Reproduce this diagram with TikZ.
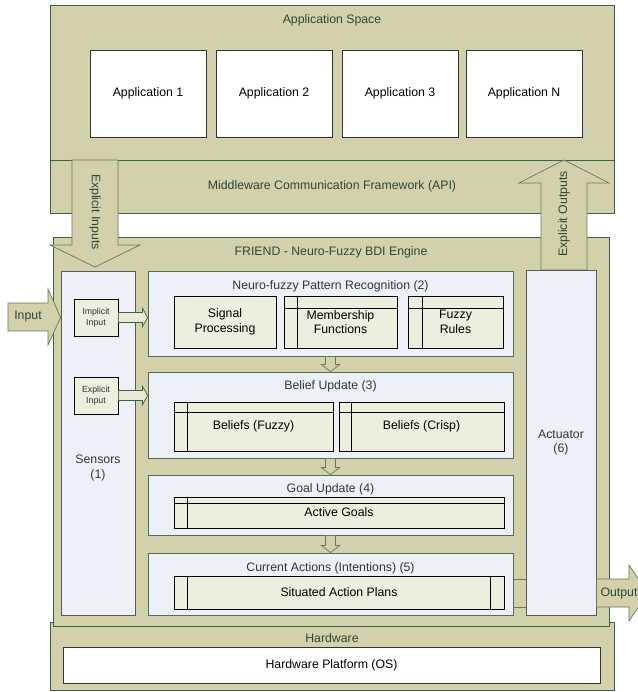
\documentclass[tikz,border=0pt]{standalone}
\usepackage{fontspec}
\setmainfont{Liberation Sans}
\usetikzlibrary{fit,calc}

\definecolor{tanfill}{RGB}{211,209,171}
\definecolor{framegreen}{RGB}{62,98,72}
\definecolor{panelfill}{RGB}{237,240,246}
\definecolor{panelline}{RGB}{80,110,85}
\definecolor{cream}{RGB}{236,238,222}
\definecolor{flowline}{RGB}{105,120,90}
\definecolor{titlegreen}{RGB}{45,70,55}
\definecolor{titleblue}{RGB}{45,55,70}

\tikzset{
  frame/.style={draw=framegreen, fill=tanfill, line width=0.7pt, inner sep=0pt},
  panel/.style={draw=panelline, fill=panelfill, line width=0.7pt, inner sep=0pt},
  part/.style={draw=black, fill=cream, line width=0.6pt, inner sep=0pt},
  appbox/.style={draw=black!80, fill=white, line width=0.7pt, inner sep=0pt},
  txt/.style={label={[align=center]center:{#1}}},
  gtxt/.style={label={[align=center, text=titlegreen]center:{#1}}},
  btxt/.style={label={[align=center, text=titleblue]center:{#1}}},
  stxt/.style={label={[align=center, text=black!80, font=\fontsize{7.5}{9.5}\selectfont]center:{#1}}},
  flow/.style={draw=flowline, fill=tanfill, line width=0.6pt},
  thinflow/.style={draw=framegreen, fill=tanfill!45!white, line width=0.6pt},
  ttl/.style={text=titlegreen},
  pttl/.style={text=titleblue}
}

\begin{document}
\begin{tikzpicture}[x=0.03cm, y=-0.03cm, font=\fontsize{10.5}{12.5}\selectfont]
\clip (0,0) rectangle (638,692);

% application space and middleware
\node[frame, fit={(50,5) (614,160)}] (appspace) {};
\node[ttl] (appttl) at (332,20.5) {Application Space};
\node[appbox, fit={(90,50) (206,137)}, txt=Application 1] (app1) {};
\node[appbox, fit={(216,50) (332,137)}, txt=Application 2] (app2) {};
\node[appbox, fit={(342,50) (458,137)}, txt=Application 3] (app3) {};
\node[appbox, fit={(466,50) (582,137)}, txt=Application N] (appn) {};
\node[frame, fit={(50,160) (614,213)}, gtxt=Middleware Communication Framework (API)] (mw) {};

% hardware
\node[frame, fit={(50,622) (614,690)}] (hw) {};
\node[ttl] (hwttl) at (332,638) {Hardware};
\node[appbox, fit={(63,647) (600,683)}, txt=Hardware Platform (OS)] (hwos) {};

% engine
\node[frame, fit={(53,237) (609,626)}] (engine) {};
\node[ttl] (enttl) at (331,252) {FRIEND - Neuro-Fuzzy BDI Engine};

% explicit inputs / outputs
\filldraw[flow] (72,160) -- (72,245) -- (50,245) -- (95,267) -- (140,245) -- (118,245) -- (118,160) -- cycle;
\node[ttl, rotate=-90] (expin) at (95,212) {Explicit Inputs};
\filldraw[flow] (541,270) -- (541,183) -- (519,183) -- (564,160) -- (609,183) -- (587,183) -- (587,270) -- cycle;
\node[ttl, rotate=90] (expout) at (564,214) {Explicit Outputs};

% sensors and actuator
\node[panel, draw=black!65, fit={(61,271) (135,615)}] (sensors) {};
\node[pttl, align=center] (senslbl) at (98,468) {Sensors\\(1)};
\node[panel, draw=black!65, fit={(526,270) (596,615)}, btxt=Actuator\\(6)] (actuator) {};
\node[part, fit={(74,299) (118,336)}, stxt=Implicit\\Input] (impl) {};
\node[part, fit={(74,377) (118,414)}, stxt=Explicit\\Input] (expl) {};

% processing stages
\node[panel, fit={(148,271) (513,356)}] (neuro) {};
\node[pttl] (neurottl) at (330.5,286) {Neuro-fuzzy Pattern Recognition (2)};
\node[part, fit={(174,296) (276,348)}, txt=Signal\\Processing] (sigproc) {};
\node[part, fit={(284,296) (397,348)}, txt=Membership\\Functions] (memb) {};
\node[part, fit={(408,296) (503,348)}, txt=Fuzzy\\Rules] (rules) {};
\draw (memb.north west) ++(14,0) -- ++(0,52);
\draw (memb.north west) ++(0,13) -- ++(113,0);
\draw (rules.north west) ++(15,0) -- ++(0,52);
\draw (rules.north west) ++(0,13) -- ++(95,0);

\node[panel, fit={(148,372) (513,458)}] (belief) {};
\node[pttl] (beliefttl) at (330.5,386) {Belief Update (3)};
\node[part, fit={(174,402) (333,451)}, txt=Beliefs (Fuzzy)] (bfuzzy) {};
\node[part, fit={(339,402) (504,451)}, txt=Beliefs (Crisp)] (bcrisp) {};
\draw (bfuzzy.north west) ++(14,0) -- ++(0,49);
\draw (bfuzzy.north west) ++(0,11) -- ++(159,0);
\draw (bcrisp.north west) ++(13,0) -- ++(0,49);
\draw (bcrisp.north west) ++(0,11) -- ++(165,0);

\node[panel, fit={(148,475) (513,535)}] (goal) {};
\node[pttl] (goalttl) at (330.5,489) {Goal Update (4)};
\node[part, fit={(174,497) (504,528)}, txt=Active Goals] (goals) {};
\draw (goals.north west) ++(14,0) -- ++(0,31);
\draw (goals.north west) ++(0,7) -- ++(330,0);

\node[panel, fit={(148,553) (513,615)}] (curact) {};
\node[pttl] (curactttl) at (330.5,568) {Current Actions (Intentions) (5)};
\node[part, fit={(174,576) (504,609)}, txt=Situated Action Plans] (plans) {};
\draw (plans.north west) ++(14,0) -- ++(0,33);
\draw (plans.north east) ++(-14,0) -- ++(0,33);

% flows between stages
\foreach \a/\b in {neuro/belief, belief/goal, goal/curact}
  \filldraw[flow] ($(\a.south)+(-5,0)$) -- ($(\b.north)+(-5,-7)$) -- ++(-4,0) -- (\b.north) -- ++(9,-7) -- ++(-4,0) -- ($(\a.south)+(5,0)$) -- cycle;

\filldraw[thinflow] ($(impl.east)+(0,-5)$) -- ($(impl.east -| neuro.west)+(-5,-5)$) -- ++(0,-4) -- (impl.east -| neuro.west) -- ++(-5,9) -- ++(0,-4) -- ($(impl.east)+(0,5)$) -- cycle;
\filldraw[thinflow] ($(expl.east)+(0,-5)$) -- ($(expl.east -| belief.west)+(-5,-5)$) -- ++(0,-4) -- (expl.east -| belief.west) -- ++(-5,9) -- ++(0,-4) -- ($(expl.east)+(0,5)$) -- cycle;

% input and output
\filldraw[flow] (8,303) -- (48,303) -- (48,289) -- (sensors.west |- impl.west) -- (48,345) -- (48,331) -- (8,331) -- cycle;
\node[ttl] (inlbl) at (28,317) {Input};
\draw[flowline, line width=0.6pt] (curact.east |- 0,579) -- (actuator.west |- 0,579);
\draw[flowline, line width=0.6pt] (curact.east |- 0,607) -- (actuator.west |- 0,607);
\filldraw[flow] (actuator.east |- 0,579) -- (629,579) -- (629,565) -- (648,593) -- (629,621) -- (629,607) -- (actuator.east |- 0,607) -- cycle;
\node[ttl] (outlbl) at (619,593) {Output};
\end{tikzpicture}
\end{document}
